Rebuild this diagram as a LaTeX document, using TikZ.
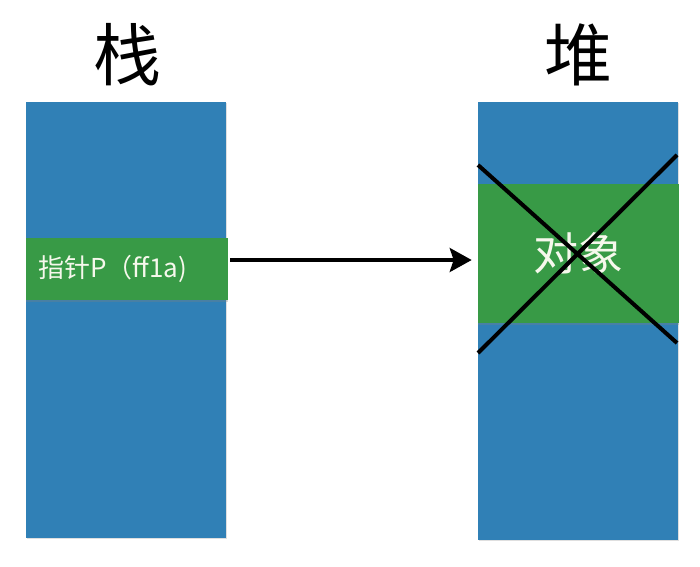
\documentclass[tikz,border=0pt]{standalone}
\usepackage{fontspec}
\setmainfont{Noto Sans CJK SC}
\usetikzlibrary{shadows, arrows.meta}
\definecolor{stackblue}{RGB}{48,128,182}
\definecolor{bandgreen}{RGB}{56,154,70}
\definecolor{bandtext}{RGB}{246,248,236}

\begin{document}
\begin{tikzpicture}[x=1pt, y=-1pt, >={Stealth[length=22pt, width=24pt, inset=4pt]}, semithick]

%====Definizione stili=======================================================

	\tikzstyle{column}=[fill=stackblue, draw=none, minimum width=200pt, inner sep=0pt,
		drop shadow={shadow xshift=1pt, shadow yshift=-1pt, opacity=0.25}]
	\tikzstyle{band}=[fill=bandgreen, draw=none, inner sep=0pt, text=bandtext,
		drop shadow={shadow xshift=0pt, shadow yshift=-2pt, opacity=0.3}]
	\tikzstyle{title}=[font=\fontsize{68}{76}\selectfont]

	\useasboundingbox[fill=white] (0,0) rectangle (700,566);

%====Colonne e titoli========================================================
	\node[title]					(tstack)	at (127,55)		{栈};
	\node[title]					(theap)	at (578,55)		{堆};
	\node[column, minimum height=436pt]	(stack)	at (126,320)	{};
	\node[column, minimum height=438pt]	(heap)	at (578,321)	{};

%====Blocchi verdi===========================================================
	\node[band, minimum width=202pt, minimum height=62pt, text width=178pt, align=left,
		font=\fontsize{26}{29}\selectfont]
						(ptr)		at (127,269)		{指针P（ff1a)};
	\node[band, minimum width=201pt, minimum height=139pt,
		font=\fontsize{45}{50}\selectfont]
						(obj)		at (578.5,253.5)	{对象};

%====Croce sull'oggetto======================================================
	\coordinate (c1) at (478,165);
	\coordinate (c2) at (677,343);
	\coordinate (c3) at (478,353);
	\coordinate (c4) at (677,155);
	\draw[line width=4pt] (c1) -- (c2);
	\draw[line width=4pt] (c3) -- (c4);

%====Freccia puntatore=======================================================
	\coordinate (pstart) at ([yshift=9pt]ptr.east);
	\draw[->, line width=3.6pt, shorten <=2pt, shorten >=6pt] (pstart) -- (heap.west |- pstart);
\end{tikzpicture}
\end{document}
